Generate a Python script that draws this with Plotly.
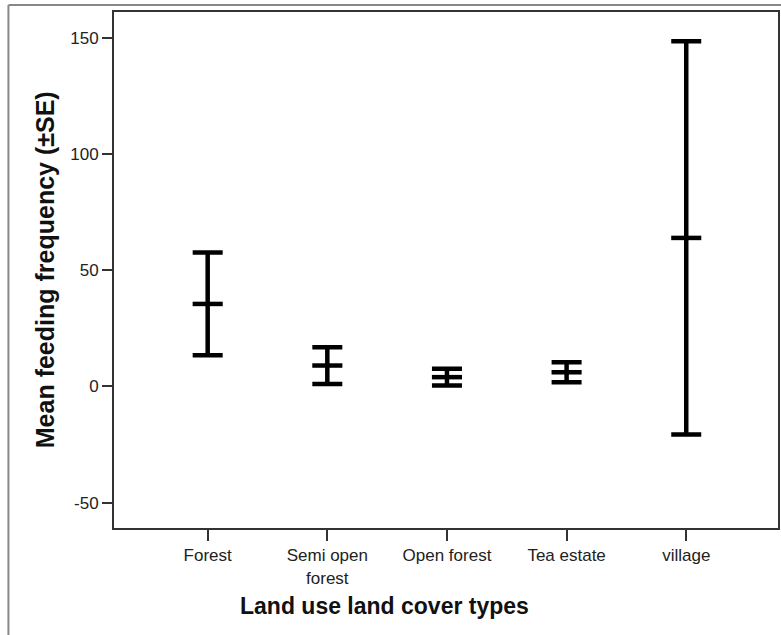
import plotly.graph_objects as go

categories = ["Forest", "Semi open<br>forest", "Open forest", "Tea estate", "village"]
means = [35.5, 9.0, 4.0, 6.1, 63.9]
se = [22.1, 7.9, 3.6, 4.3, 84.6]
y_ticks = [-50, 0, 50, 100, 150]
y_tick_text = ["-50", "0", "50", "100", "150"]

FONT = "Arial, Liberation Sans, sans-serif"

fig = go.Figure()
fig.add_trace(go.Scatter(
    x=list(range(len(categories))), y=means, mode="markers",
    marker=dict(symbol="line-ew", size=21.5, line=dict(width=4.5, color="black"), color="black"),
    error_y=dict(type="data", array=se, visible=True, thickness=4.5, width=15, color="black"),
    showlegend=False, hoverinfo="skip",
))

fig.update_layout(
    width=781, height=635,
    margin=dict(l=114, r=1, t=12, b=107),
    paper_bgcolor="white", plot_bgcolor="white",
    font=dict(family=FONT, size=17, color="#222"),
    xaxis=dict(
        range=[-0.783, 4.767],
        tickvals=list(range(len(categories))), ticktext=categories,
        ticks="outside", ticklen=11, tickwidth=2, tickcolor="#333",
        showline=True, linecolor="#333", linewidth=2, mirror=True,
        showgrid=False, zeroline=False, tickangle=0,
    ),
    yaxis=dict(
        range=[-60.9, 161.1],
        tickvals=y_ticks, ticktext=y_tick_text,
        ticks="outside", ticklen=10, tickwidth=2, tickcolor="#333",
        showline=True, linecolor="#333", linewidth=2, mirror=True,
        showgrid=False, zeroline=False,
    ),
    shapes=[
        dict(type="line", xref="paper", yref="paper", x0=-0.159, x1=1.01, y0=1.0136, y1=1.0136,
             line=dict(color="#888", width=2)),
        dict(type="line", xref="paper", yref="paper", x0=-0.159, x1=-0.159, y0=1.0136, y1=-0.25,
             line=dict(color="#888", width=2)),
    ],
    annotations=[
        dict(text="<b>Land use land cover types</b>", xref="paper", yref="paper",
             x=0.407, y=-0.151, xanchor="center", yanchor="middle", showarrow=False,
             font=dict(family=FONT, size=23, color="#111")),
        dict(text="<b>Mean feeding frequency (±SE)</b>", xref="paper", yref="paper",
             x=-0.1036, y=0.5, xanchor="center", yanchor="middle", showarrow=False,
             textangle=-90, font=dict(family=FONT, size=25, color="#111")),
    ],
)

fig.write_html("out.html", config={"displayModeBar": False},
               post_script="document.body.style.margin='0';document.body.style.overflow='hidden';")
